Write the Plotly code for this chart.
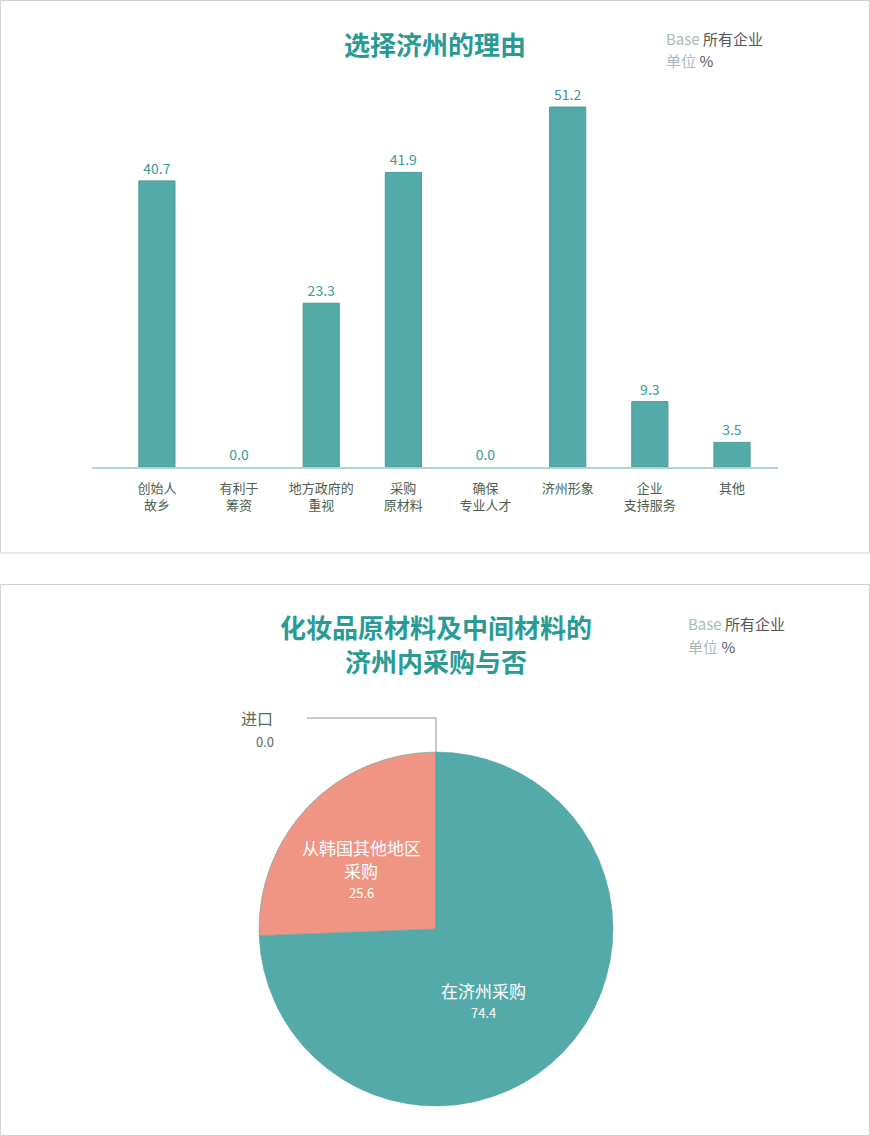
import plotly.graph_objects as go

W, H = 870, 1136

# ---- data ----
bar_categories = ["创始人<br>故乡", "有利于<br>筹资", "地方政府的<br>重视", "采购<br>原材料",
                  "确保<br>专业人才", "济州形象", "企业<br>支持服务", "其他"]
bar_values = [40.7, 0.0, 23.3, 41.9, 0.0, 51.2, 9.3, 3.5]

pie_labels = ["在济州采购", "从韩国其他地区<br>采购", "进口"]
pie_values = [74.4, 25.6, 0.0]

title1 = "选择济州的理由"
title2 = "化妆品原材料及中间材料的<br>济州内采购与否"

TEAL = "#54aaa8"
SALMON = "#f09584"
FONT = "Noto Sans CJK SC"


def px(x):
    return x / W


def py(y):
    return 1 - y / H


fig = go.Figure()

fig.add_trace(go.Bar(
    x=bar_categories, y=bar_values,
    marker=dict(color=TEAL, line=dict(color="#479c99", width=[1 if v > 0 else 0 for v in bar_values])),
    width=0.44,
    text=[f"{v:.1f}" for v in bar_values],
    textposition="outside",
    textfont=dict(color="#3a9a95", size=14, family=FONT),
    cliponaxis=False,
    hoverinfo="skip",
    xaxis="x", yaxis="y",
))

fig.add_trace(go.Pie(
    labels=pie_labels, values=pie_values,
    sort=False, direction="clockwise", rotation=0,
    marker=dict(colors=[TEAL, SALMON, "#aaaaaa"], line=dict(color="#4fa3a0", width=0.5)),
    textinfo="none", hoverinfo="skip", showlegend=False,
    domain=dict(x=[px(259), px(613)], y=[py(1106), py(752)]),
))

fig.update_layout(
    width=W, height=H,
    margin=dict(l=0, r=0, t=0, b=0),
    paper_bgcolor="white", plot_bgcolor="white",
    showlegend=False,
    font=dict(family=FONT, color="#4d5e50"),
    xaxis=dict(
        domain=[px(92), px(778)],
        range=[-0.79, 7.56],
        showline=True, linecolor="#b3d2d2", linewidth=2,
        showgrid=False, zeroline=False,
        ticks="", ticklabelstandoff=8,
        tickfont=dict(size=13, color="#4d5e50", family=FONT),
        anchor="y", fixedrange=True,
    ),
    yaxis=dict(
        domain=[py(467), py(97)],
        range=[0, (467 - 97) / 7.03],
        visible=False, fixedrange=True,
    ),
)

shapes = [
    dict(type="rect", xref="paper", yref="paper", x0=px(0.5), x1=px(869.5), y0=py(553), y1=py(0.5),
         line=dict(color="#d2d2d2", width=1)),
    dict(type="rect", xref="paper", yref="paper", x0=px(0.5), x1=px(869.5), y0=py(1135.5), y1=py(584.5),
         line=dict(color="#d2d2d2", width=1)),
    # leader line for the zero slice
    dict(type="path", xref="paper", yref="paper",
         path=f"M {px(307)} {py(718)} L {px(436)} {py(718)} L {px(436)} {py(752)}",
         line=dict(color="#b3bab6", width=1.5)),
]


def note(text, x, y, size, color, xanchor="center", bold=False):
    if bold:
        text = f"<b>{text}</b>"
    return dict(text=text, x=px(x), y=py(y), xref="paper", yref="paper",
                xanchor=xanchor, yanchor="middle", showarrow=False,
                font=dict(size=size, color=color, family=FONT))


ann = [
    note(title1, 435, 43, 26, "#2a9b94", bold=True),
    note(title2, 436, 643.5, 26, "#2a9b94", bold=True),
]
for bx, by1, by2 in [(664, 38, 61), (686, 623, 646)]:
    ann.append(note("<span style='color:#a9bab6'>Base</span> 所有企业", bx, by1, 15, "#555555", "left"))
    ann.append(note("<span style='color:#a9bab6'>单位</span> %", bx, by2, 15, "#555555", "left"))

# pie labels (one annotation per line)
lines0 = pie_labels[0].split("<br>")
lines1 = pie_labels[1].split("<br>")
ann.append(note(lines0[0], 484, 990, 17, "white"))
ann.append(note(f"{pie_values[0]:.1f}", 484, 1012, 13, "white"))
for i, ln in enumerate(lines1):
    ann.append(note(ln, 361, 847 + 23 * i, 17, "white"))
ann.append(note(f"{pie_values[1]:.1f}", 361, 892, 13, "white"))
ann.append(note(pie_labels[2], 275, 718, 16, "#5a6b5c", "right"))
ann.append(note(f"{pie_values[2]:.1f}", 276, 741, 13, "#5a6b5c", "right"))

fig.update_layout(shapes=shapes, annotations=ann)

fig.write_html("out.html", post_script="document.body.style.margin='0';",
               config={"displayModeBar": False})
